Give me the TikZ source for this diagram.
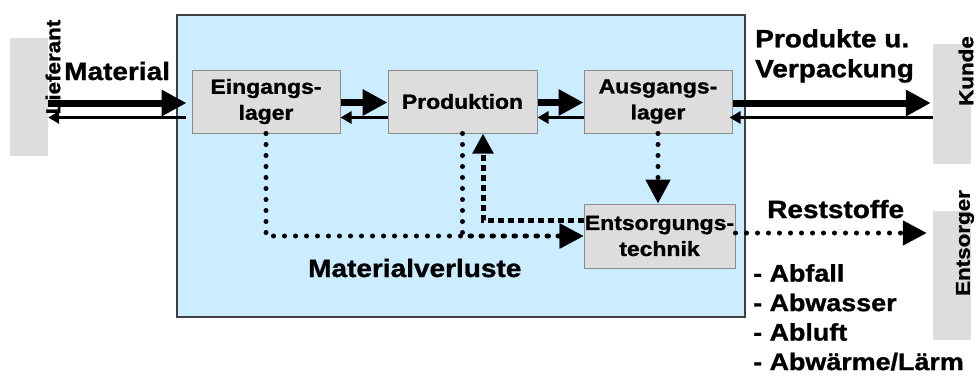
\documentclass[tikz,border=0pt]{standalone}
\usepackage{fontspec}
\setmainfont{Liberation Sans}[FakeStretch=1.12,BoldFeatures={FakeBold=1.2}]
\usetikzlibrary{arrows.meta}
\definecolor{werkblue}{HTML}{CCECFF}
\definecolor{boxgray}{HTML}{DDDDDD}
\begin{document}
\begin{tikzpicture}[x=1pt,y=-1pt,
  stock/.style={draw=black!45,line width=1pt,fill=boxgray,minimum width=148pt,minimum height=63pt,inner sep=0pt,align=center,font=\fontsize{20.5}{26}\selectfont\bfseries,execute at begin node={\vspace*{7pt}}},
  partner/.style={fill=boxgray,inner sep=0pt,minimum width=38pt},
  partnername/.style={rotate=90,inner sep=0pt,font=\fontsize{20}{24}\selectfont\bfseries},
  flowlabel/.style={inner sep=0pt,align=left,font=\fontsize{25}{30}\selectfont\bfseries},
  thickflow/.style={line width=7pt,-{Triangle[length=25pt,width=25pt]}},
  thinflow/.style={line width=3.5pt,-{Triangle[length=11pt,width=12pt]}},
  lossflow/.style={line width=5pt,line cap=round,dash pattern=on 0pt off 11pt,-{Triangle[length=24pt,width=24pt]}},
  backflow/.style={line width=5pt,dash pattern=on 6pt off 4pt,-{Triangle[length=20pt,width=20pt]}}]
\useasboundingbox (0,0) rectangle (978,376);
%\draw[help lines] (0,0) grid[step=50] (978,376);
\node[draw=black!75,line width=1.5pt,fill=werkblue,minimum width=568pt,minimum height=302pt] (werk) at (461,166) {};
\node[partner,minimum height=118pt] (lief) at (29,97) {};
\node[partner,minimum height=120pt] (kunde) at (952,104) {};
\node[partner,minimum height=129pt] (entsorger) at (952,275.5) {};
\node[stock] (eing) at (266,101.5) {Eingangs-\\lager};
\node[stock,minimum width=149pt] (prod) at (462.5,101.5) {Produktion};
\node[stock] (ausg) at (658,101.5) {Ausgangs-\\lager};
\node[stock,minimum width=151pt,minimum height=64pt] (ents) at (659.5,236) {Entsorgungs-\\technik};
\draw[thickflow,shorten >=5pt] ([yshift=-6pt]lief.east) -- ([yshift=-1.5pt]eing.west);
\draw[thinflow,shorten <=6pt] ([yshift=-16pt]eing.west) -- ([yshift=-20.5pt]lief.east);
\draw[thickflow] ([yshift=-1pt]eing.east) -- ([yshift=-1pt]prod.west);
\draw[thinflow] ([yshift=-16pt]prod.west) -- ([yshift=-16pt]eing.east);
\draw[thickflow] ([yshift=-1pt]prod.east) -- ([yshift=-1pt]ausg.west);
\draw[thinflow] ([yshift=-16pt]ausg.west) -- ([yshift=-16pt]prod.east);
\draw[thickflow,shorten >=2pt] ([yshift=-1.5pt]ausg.east) -- ([yshift=1pt]kunde.west);
\draw[thinflow,shorten >=-3pt] ([yshift=-13.5pt]kunde.west) -- ([yshift=-16pt]ausg.east);
\draw[lossflow] (eing.south) |- (ents.west);
\draw[lossflow] (prod.south) |- (ents.west);
\draw[backflow] ([yshift=16pt]ents.west) -| ([xshift=20.5pt]prod.south);
\draw[lossflow] (ausg.south) -- (ausg.south |- ents.north);
\draw[lossflow,shorten >=6pt] ([yshift=3pt]ents.east) -- ([yshift=3pt]ents.east -| entsorger.west);
\node[partnername] (liefname) at (53,67) {Lieferant};
\node[partnername] (kundename) at (966,71) {Kunde};
\node[partnername] (entsorgername) at (965,243) {Entsorger};
\node[flowlabel,anchor=base west] (material) at (64,80) {Material};
\node[flowlabel,anchor=north west] (produkte) at (755,29) {Produkte u.\\Verpackung};
\node[flowlabel,anchor=base west] (verluste) at (308,277) {Materialverluste};
\node[flowlabel,anchor=base west] (reststoffe) at (767,218) {Reststoffe};
\node[flowlabel,anchor=north west,font=\fontsize{24}{29.5}\selectfont\bfseries] (arten) at (753,264) {- Abfall\\- Abwasser\\- Abluft\\- Abwärme/Lärm};
\end{tikzpicture}
\end{document}
